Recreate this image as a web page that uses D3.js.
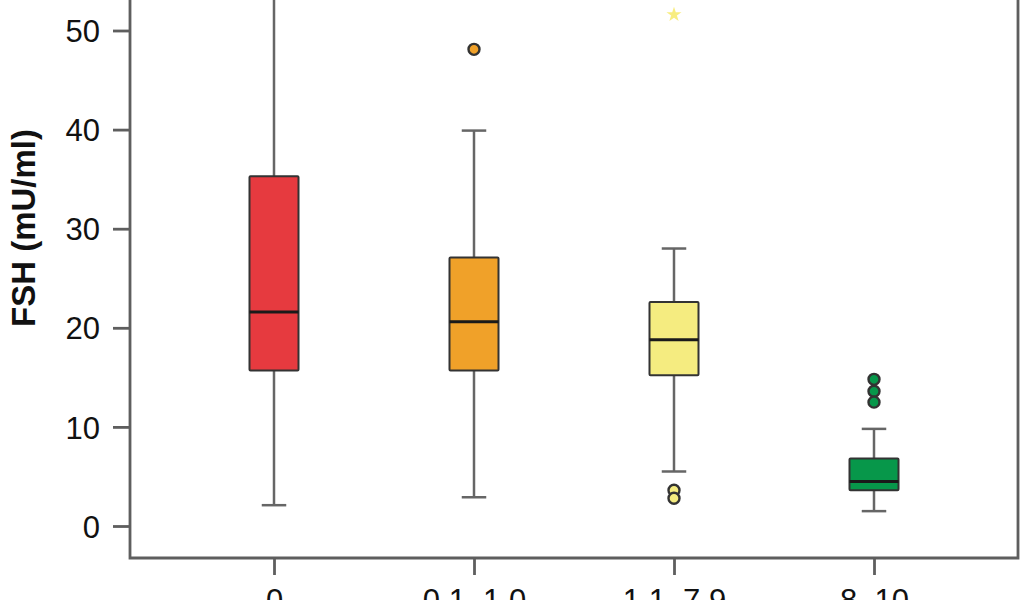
<!DOCTYPE html>
<html>
<head>
<meta charset="utf-8">
<script src="https://cdn.jsdelivr.net/npm/d3@7"></script>
<style>
  body { margin: 0; background: #fff; overflow: hidden; }
  text { font-family: "Liberation Sans", Arial, sans-serif; }
</style>
</head>
<body>
<div id="chart"></div>
<script>
// values
var categories = ["0", "0.1\u20131.0", "1.1\u20137.9", "8\u201310"];
var colors = ["#e63a3f", "#f0a129", "#f5ec80", "#07974a"];
var whiskerLow = [2.1, 2.9, 5.5, 1.5];
var q1 = [15.7, 15.7, 15.2, 3.6];
var median = [21.6, 20.6, 18.8, 4.5];
var q3 = [35.3, 27.1, 22.6, 6.8];
var whiskerHigh = [68, 39.9, 28.0, 9.8];
var outliers = [[], [48.1], [3.6, 2.8], [14.8, 13.6, 12.5]];
var extremes = [[], [], [51.6], []];
var yTicks = [0, 10, 20, 30, 40, 50];

var width = 1024, height = 600;
var left = 130, right = 1018, bottom = 558;

var svg = d3.select("#chart")
  .append("svg")
    .attr("width", width)
    .attr("height", height);

var x = d3.scalePoint()
    .domain(categories)
    .range([left, right])
    .padding(0.72);

var y = d3.scaleLinear()
    .domain([0, 50])
    .range([526, 30.5]);

var boxW = 49;

// clip so the long whisker runs off the top
svg.append("clipPath").attr("id", "plotclip")
  .append("rect").attr("x", left).attr("y", -50).attr("width", right - left).attr("height", bottom + 50);

var g = svg.append("g").attr("clip-path", "url(#plotclip)");

categories.forEach(function(c, i) {
    var cx = x(c);
    // whiskers
    g.append("line")
        .attr("x1", cx).attr("x2", cx)
        .attr("y1", y(whiskerHigh[i])).attr("y2", y(q3[i]))
        .attr("stroke", "#666").attr("stroke-width", 2.5);
    g.append("line")
        .attr("x1", cx).attr("x2", cx)
        .attr("y1", y(q1[i])).attr("y2", y(whiskerLow[i]))
        .attr("stroke", "#666").attr("stroke-width", 2.5);
    [whiskerLow[i], whiskerHigh[i]].forEach(function(v) {
        g.append("line")
            .attr("x1", cx - boxW / 4).attr("x2", cx + boxW / 4)
            .attr("y1", y(v)).attr("y2", y(v))
            .attr("stroke", "#666").attr("stroke-width", 2.5);
    });
    // box
    g.append("rect")
        .attr("x", cx - boxW / 2)
        .attr("y", y(q3[i]))
        .attr("width", boxW)
        .attr("height", y(q1[i]) - y(q3[i]))
        .attr("fill", colors[i])
        .attr("stroke", "#333")
        .attr("stroke-width", 2)
        .attr("rx", 1);
    g.append("line")
        .attr("x1", cx - boxW / 2).attr("x2", cx + boxW / 2)
        .attr("y1", y(median[i])).attr("y2", y(median[i]))
        .attr("stroke", "#1a1a1a").attr("stroke-width", 3);
    // outliers
    outliers[i].forEach(function(v) {
        g.append("circle")
            .attr("cx", cx).attr("cy", y(v))
            .attr("r", 5.5)
            .attr("fill", colors[i])
            .attr("stroke", "#333")
            .attr("stroke-width", 2.4);
    });
    // extreme values as stars
    extremes[i].forEach(function(v) {
        g.append("path")
            .attr("d", d3.symbol().type(d3.symbolStar).size(70)())
            .attr("transform", "translate(" + cx + "," + y(v) + ")")
            .attr("fill", "#f7ea6a")
            .attr("opacity", 0.85);
    });
});

// frame: left, bottom, right
svg.append("path")
    .attr("d", "M" + left + ",-5 V" + bottom + " H" + right + " V-5")
    .attr("fill", "none")
    .attr("stroke", "#5e5e5e")
    .attr("stroke-width", 2.8);

// y axis
var yAxis = svg.append("g")
    .attr("transform", "translate(" + left + ",0)")
    .call(d3.axisLeft(y).tickValues(yTicks).tickSize(17).tickPadding(13));
yAxis.select(".domain").remove();
yAxis.selectAll(".tick line").attr("stroke", "#5e5e5e").attr("stroke-width", 2.8);
yAxis.selectAll(".tick text")
    .attr("fill", "#111")
    .style("font-size", "31px")
    .attr("dy", "0.36em");

// x axis (labels run off the bottom edge, as in the source)
var xAxis = svg.append("g")
    .attr("transform", "translate(0," + bottom + ")")
    .call(d3.axisBottom(x).tickSize(17).tickPadding(14));
xAxis.select(".domain").remove();
xAxis.selectAll(".tick line").attr("stroke", "#5e5e5e").attr("stroke-width", 2.8);
xAxis.selectAll(".tick text")
    .attr("fill", "#111")
    .style("font-size", "31px");

// y label
svg.append("text")
    .attr("transform", "translate(35,228) rotate(-90)")
    .attr("text-anchor", "middle")
    .attr("fill", "#111")
    .style("font-size", "33px")
    .style("font-weight", "bold")
    .text("FSH (mU/ml)");
</script>
</body>
</html>
